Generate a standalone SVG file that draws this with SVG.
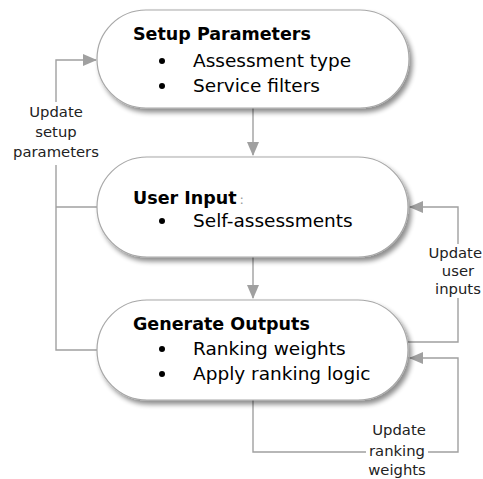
<svg xmlns="http://www.w3.org/2000/svg" width="483" height="479" viewBox="0 0 483 479">
<defs>
<filter id="sh" x="-10%" y="-20%" width="130%" height="150%">
<feGaussianBlur in="SourceAlpha" stdDeviation="2.5"/>
<feOffset dx="3" dy="4" result="b"/>
<feComponentTransfer><feFuncA type="linear" slope="0.45"/></feComponentTransfer>
<feMerge><feMergeNode/><feMergeNode in="SourceGraphic"/></feMerge>
</filter>
<marker id="ah" markerWidth="14" markerHeight="12" refX="13" refY="6" orient="auto" markerUnits="userSpaceOnUse">
<path d="M0,0 L14,6 L0,12 Z" fill="#a0a0a0"/>
</marker>
</defs>
<style>
.node{fill:#fff;stroke:#a8a8a8;stroke-width:1.2;filter:url(#sh)}
.title{font-family:"DejaVu Sans",sans-serif;font-weight:bold;font-size:17.5px;fill:#000}
.item{font-family:"DejaVu Sans",sans-serif;font-size:18.5px;fill:#000}
.lbl{font-family:"DejaVu Sans",sans-serif;font-size:14.8px;fill:#222;text-anchor:middle}
.c{fill:none;stroke:#a0a0a0;stroke-width:1.4}
</style>
<g id="connectors">
<path class="c" d="M253,108 V155" marker-end="url(#ah)"/>
<path class="c" d="M253,257 V298" marker-end="url(#ah)"/>
<path class="c" d="M97,350 H56 V165"/>
<path class="c" d="M97,207 H56"/>
<path class="c" d="M56,102 V60 H96" marker-end="url(#ah)"/>
<path class="c" d="M408,342 H458 V298"/>
<path class="c" d="M458,244 V207 H410" marker-end="url(#ah)"/>
<path class="c" d="M253,400 V452 H366"/>
<path class="c" d="M428,452 H458 V358 H410" marker-end="url(#ah)"/>
<text class="lbl" x="56" y="117">Update</text>
<text class="lbl" x="56" y="137">setup</text>
<text class="lbl" x="56" y="157">parameters</text>
<text class="lbl" x="482" y="258" style="text-anchor:end">Update</text>
<text class="lbl" x="458" y="276">user</text>
<text class="lbl" x="458" y="294">inputs</text>
<text class="lbl" x="399" y="435">Update</text>
<text class="lbl" x="397" y="456">ranking</text>
<text class="lbl" x="397" y="475">weights</text>
</g>
<g id="setup">
<rect class="node" x="97" y="10" width="312" height="98" rx="49"/>
<text class="title" x="133" y="40">Setup Parameters</text>
<circle cx="162" cy="61" r="3"/>
<text class="item" x="193" y="67">Assessment type</text>
<circle cx="162" cy="86" r="3"/>
<text class="item" x="193" y="92">Service filters</text>
</g>
<g id="input">
<rect class="node" x="97" y="157" width="311" height="100" rx="50"/>
<text class="title" x="133" y="204">User Input<tspan fill="#999" font-weight="normal" font-size="13" dx="3">:</tspan></text>
<circle cx="162" cy="221" r="3"/>
<text class="item" x="193" y="227">Self-assessments</text>
</g>
<g id="outputs">
<rect class="node" x="97" y="300" width="311" height="100" rx="50"/>
<text class="title" x="133" y="330">Generate Outputs</text>
<circle cx="162" cy="349" r="3"/>
<text class="item" x="193" y="355">Ranking weights</text>
<circle cx="162" cy="374" r="3"/>
<text class="item" x="193" y="380">Apply ranking logic</text>
</g>
</svg>
